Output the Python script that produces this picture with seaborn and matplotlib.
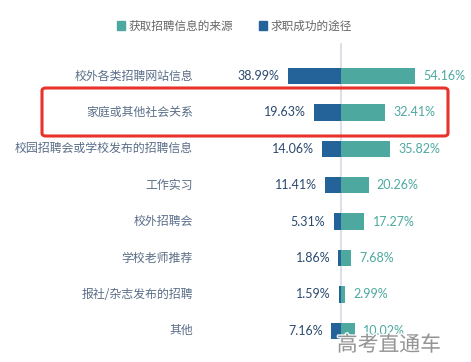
import matplotlib
matplotlib.use("Agg")
import matplotlib.pyplot as plt
import seaborn as sns
import pandas as pd
from matplotlib.patches import FancyBboxPatch, Rectangle
import matplotlib.patheffects as pe

categories = ['校外各类招聘网站信息', '家庭或其他社会关系', '校园招聘会或学校发布的招聘信息',
              '工作实习', '校外招聘会', '学校老师推荐', '报社/杂志发布的招聘', '其他']
source_vals = [54.16, 32.41, 35.82, 20.26, 17.27, 7.68, 2.99, 10.02]   # 获取招聘信息的来源
success_vals = [38.99, 19.63, 14.06, 11.41, 5.31, 1.86, 1.59, 7.16]   # 求职成功的途径
series_names = ['获取招聘信息的来源', '求职成功的途径']

TEAL = '#4DA9A0'
NAVY = '#24629A'
CAT_COLOR = '#5A6E88'

sns.set_theme(style='white')
plt.rcParams['font.family'] = ['Noto Sans CJK SC', 'DejaVu Sans']

df = pd.DataFrame({'cat': categories, 'source': source_vals,
                   'success': [-v for v in success_vals]})

W, H = 471, 362
fig = plt.figure(figsize=(W / 100, H / 100), dpi=100)
px_per = 1.36
cx = 341
ax = fig.add_axes([0, 1 - 349 / H, 1, (349 - 57.8) / H])

sns.barplot(data=df, y='cat', x='source', color=TEAL, width=0.45, ax=ax,
            order=categories, saturation=1, linewidth=0)
sns.barplot(data=df, y='cat', x='success', color=NAVY, width=0.45, ax=ax,
            order=categories, saturation=1, linewidth=0)

ax.set_xlim(-cx / px_per, (W - cx) / px_per)
ax.set_ylim(7.5, -0.5)
ax.axis('off')

# center line
fig.add_artist(plt.Line2D([cx / W, cx / W], [1 - 350 / H, 1 - 44 / H],
                          color='#DCE1E7', lw=1.5, zorder=0))

num_font = ['Lato', 'DejaVu Sans']
label_x = (193 - cx) / px_per
for i, c in enumerate(categories):
    ax.text(label_x, i, c, ha='right', va='center', fontsize=8.6, color=CAT_COLOR)
    ax.annotate(f'{source_vals[i]:.2f}%', (source_vals[i], i), xytext=(6, 0),
                textcoords='offset points', ha='left', va='center',
                fontsize=9, color=TEAL, family=num_font)
    ax.annotate(f'{success_vals[i]:.2f}%', (-success_vals[i], i), xytext=(-6, 0),
                textcoords='offset points', ha='right', va='center',
                fontsize=9, color='#2C4A6E', family=num_font)

# legend
handles = [Rectangle((0, 0), 1, 1, color=TEAL), Rectangle((0, 0), 1, 1, color=NAVY)]
leg = fig.legend(handles, series_names, loc='center', bbox_to_anchor=(0.497, 1 - 26 / H),
                 ncol=2, frameon=False, fontsize=8.4, handlelength=0.7, handleheight=0.7,
                 handletextpad=0.3, columnspacing=2.2)
for t in leg.get_texts():
    t.set_color('#666666')

# red highlight box
box = FancyBboxPatch((42 / W, 1 - 136 / H), (448 - 42) / W, (136 - 88) / H,
                     boxstyle='round,pad=0,rounding_size=0.008',
                     transform=fig.transFigure, fill=False, edgecolor='#E8322B', lw=2.2)
fig.add_artist(box)

# watermark
fig.text(389 / W, 1 - 345 / H, '高考直通车', ha='center', va='center', fontsize=15,
         color='#8A8A8A', alpha=0.9,
         path_effects=[pe.withStroke(linewidth=2, foreground='white')])

fig.savefig('out.png', dpi=100)
